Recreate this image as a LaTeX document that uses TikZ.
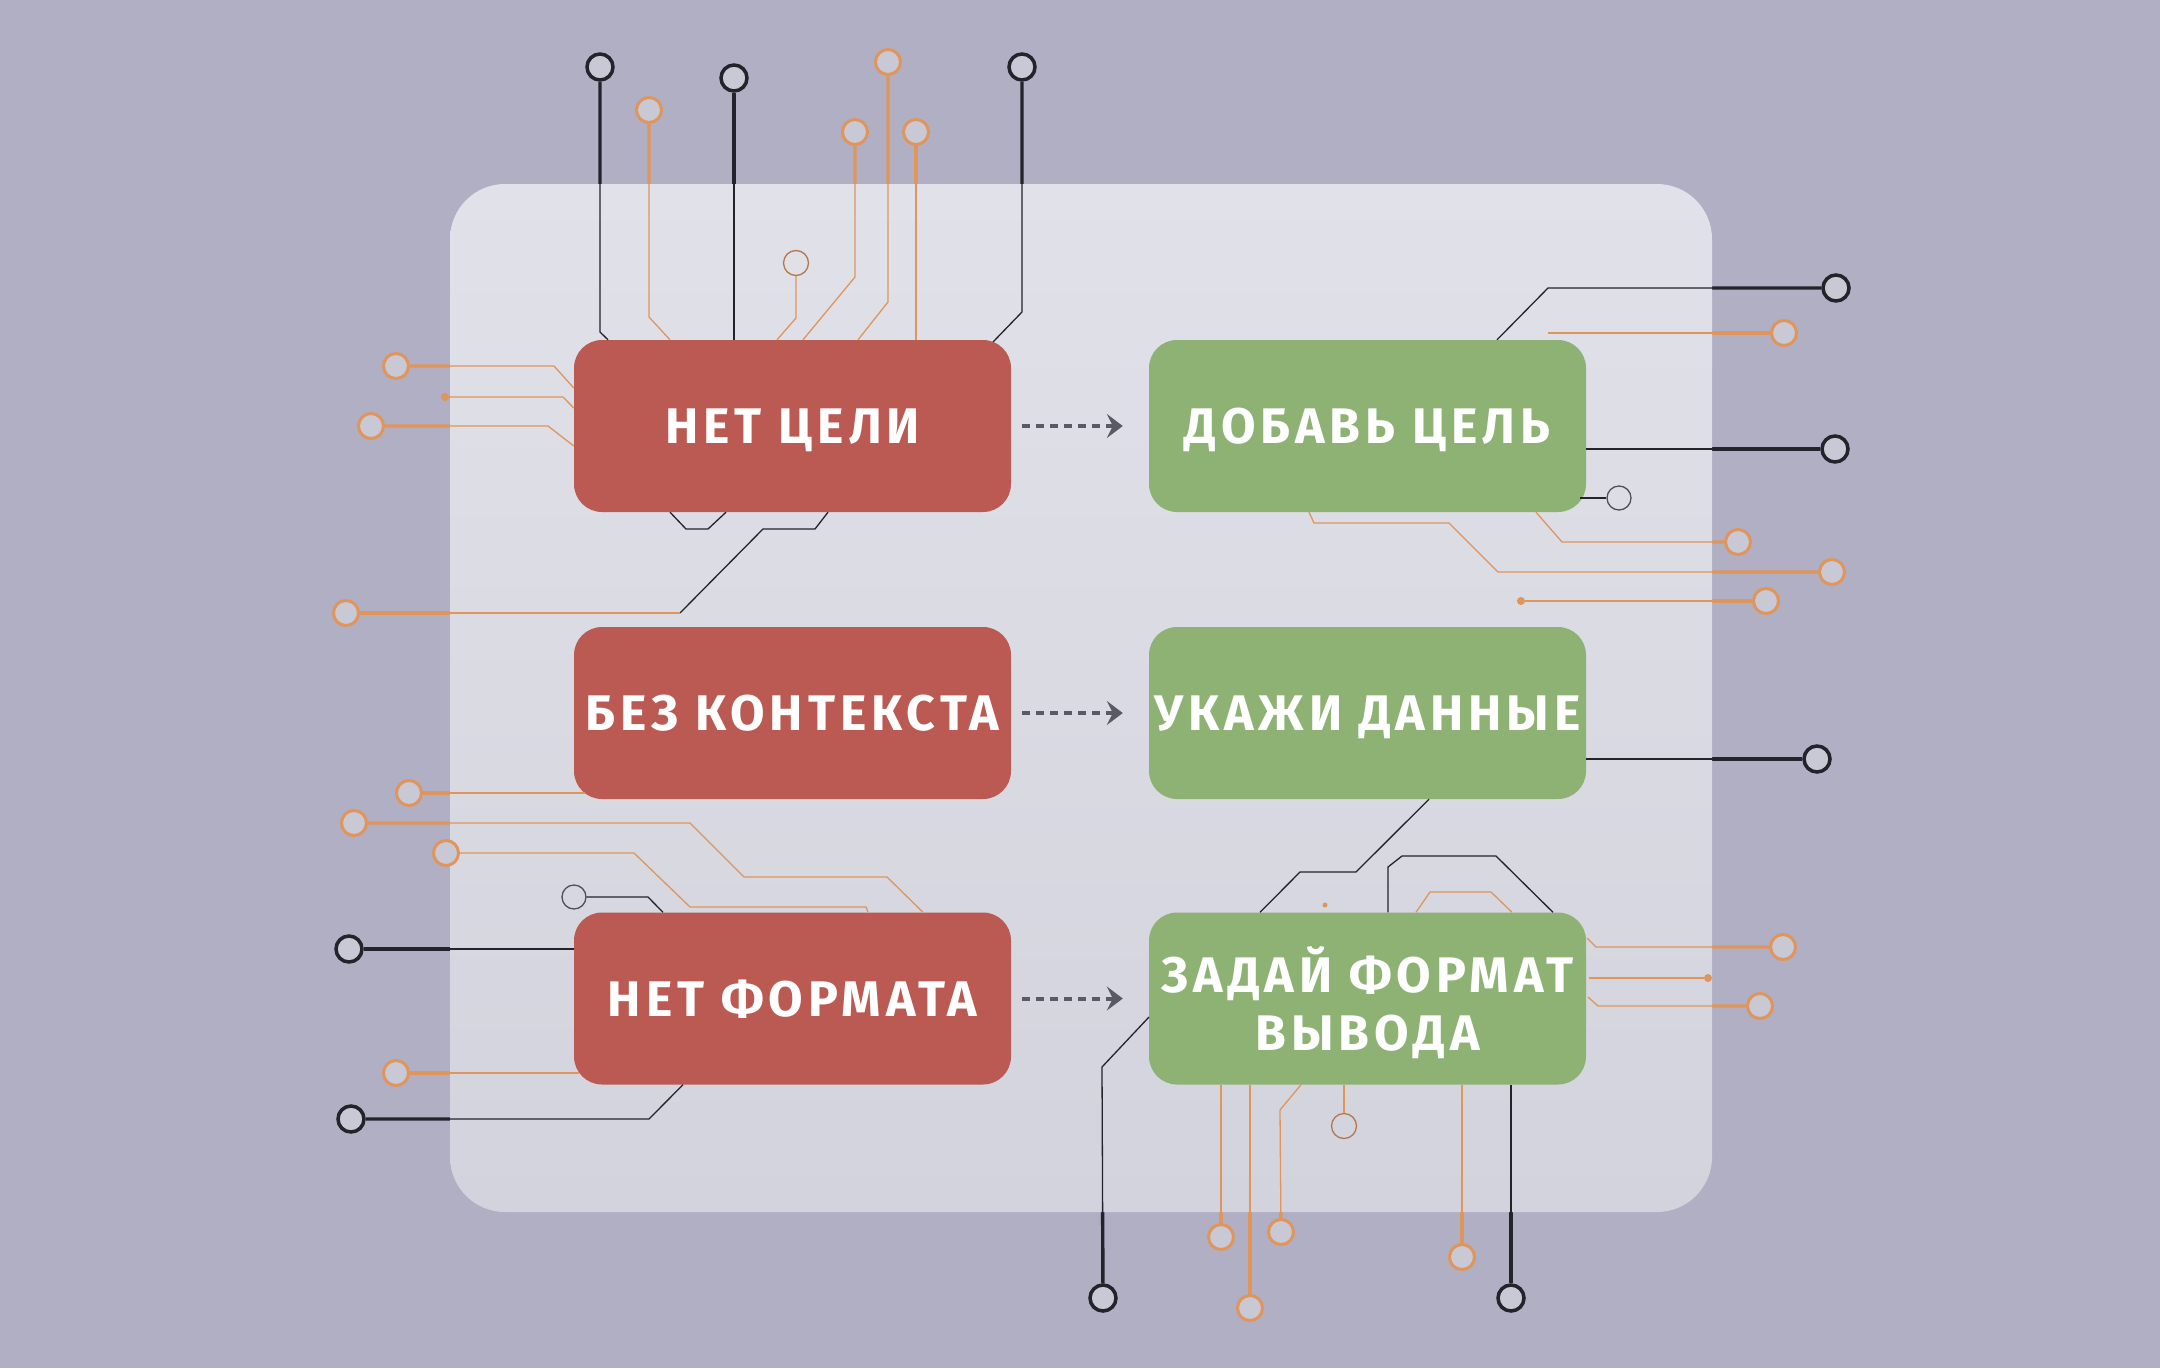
\documentclass[tikz,border=0pt]{standalone}
\usepackage{fontspec}
\newfontfamily\boxfont[LetterSpace=10]{Fira Sans}
\usetikzlibrary{arrows.meta}
\definecolor{bgcol}{HTML}{B0AFC3}
\definecolor{boardtop}{HTML}{E1E1E9}
\definecolor{boardbot}{HTML}{D3D3DD}
\definecolor{badred}{HTML}{BA5A52}
\definecolor{goodgreen}{HTML}{8DB274}
\definecolor{wireblack}{HTML}{23232B}
\definecolor{wireorange}{HTML}{E0955A}
\definecolor{padfill}{HTML}{C9C9D6}
\definecolor{arrowgray}{HTML}{5A5A64}
\pgfdeclarelayer{back}
\pgfdeclarelayer{wires}
\pgfdeclarelayer{board}
\pgfsetlayers{back,wires,board,main}

\newcommand\chiptraces{%
\draw [blk] (t1) -- (600,332) -- (608,0 |- noGoal.north);
\draw [org] (t2) -- (649,317) -- (670,0 |- noGoal.north);
\draw [blk] (t3) -- (734,0 |- noGoal.north);
\draw [org] (t4) -- (796,318) -- (777,0 |- noGoal.north);
\draw [org] (t5) -- (855,277) -- (803,0 |- noGoal.north);
\draw [org] (t6) -- (888,302) -- (858,0 |- noGoal.north);
\draw [org] (t7) -- (916,0 |- noGoal.north);
\draw [blk] (t8) -- (1022,312) -- (993,342);
\draw [org] (l1) -- (554,366) -- (0,388 -| noGoal.west);
\draw [org] (l2) -- (563,397) -- (0,408 -| noGoal.west);
\draw [org] (l3) -- (548,426) -- (0,446 -| noGoal.west);
\draw [blk] (670,0 |- noGoal.south) -- (686,529) -- (708,529) -- (726,0 |- noGoal.south);
\draw [blk] (828,0 |- noGoal.south) -- (815,529) -- (763,529) -- (680,613) coordinate (bend);
\draw [org] (l4) -- (bend);
\draw [org] (l5) -- (585,793);
\draw [org] (l6) -- (690,823) -- (744,877) -- (887,877) -- (923,0 |- noFormat.north);
\draw [org] (l7) -- (634,853) -- (690,907) -- (866,907) -- (868,0 |- noFormat.north);
\draw [blk] (l8) -- (648,897) -- (663,0 |- noFormat.north);
\draw [blk] (l9) -- (l9 -| noFormat.west);
\draw [org] (l10) -- (579,1073);
\draw [blk] (l11) -- (649,1119) -- (683,0 |- noFormat.south);
\draw [blk] (r1) -- (1548,288) -- (1497,0 |- addGoal.north);
\draw [org] (r2) -- (1548,333);
\draw [blk] (r3) -- (r3 -| addGoal.east);
\draw [blk] (r4) -- (1580,498);
\draw [org] (r5) -- (1562,542) -- (1536,0 |- addGoal.south);
\draw [org] (r6) -- (1498,572) -- (1449,523) -- (1314,523) -- (1309,0 |- addGoal.south);
\draw [org] (r7) -- (m1);
\draw [blk] (r8) -- (r8 -| giveData.east);
\draw [blk] (1429,0 |- giveData.south) -- (1356,872) -- (1300,872) -- (1260,0 |- setFormat.north);
\draw [blk] (1388,0 |- setFormat.north) -- (1388,867) -- (1402,856) -- (1496,856) -- (1553,0 |- setFormat.north);
\draw [org] (1416,0 |- setFormat.north) -- (1430,892) -- (1491,892) -- (1512,0 |- setFormat.north);
\draw [org] (r9) -- (1596,947) -- (1587,938);
\draw [org] (m2) -- (1589,978);
\draw [org] (r11) -- (1598,1006) -- (1588,997);
\draw [blk] (b1) -- (1102,1067) -- (1149,1017);
\draw [org] (b2) -- (b2 |- setFormat.south);
\draw [org] (b3) -- (b3 |- setFormat.south);
\draw [org] (b4) -- (1280,1110) -- (1301,0 |- setFormat.south);
\draw [org] (b5) -- (b5 |- setFormat.south);
\draw [org] (b6) -- (b6 |- setFormat.south);
\draw [blk] (b7) -- (b7 |- setFormat.south);
}

\begin{document}
\begin{tikzpicture}
[x=1pt, y=-1pt,
 every node/.style={inner sep=0pt},
 badbox/.style={rounded corners=28pt, minimum width=437pt, minimum height=172pt, fill=badred, text=white, text depth=0pt, align=center, font=\boxfont\bfseries\fontsize{50pt}{58pt}\selectfont},
 goodbox/.style={badbox, fill=goodgreen},
 blkpad/.style={circle, minimum size=26pt, draw=wireblack, line width=3.5pt, fill=padfill},
 orgpad/.style={circle, minimum size=25pt, draw=wireorange, line width=3pt, fill=padfill},
 blkring/.style={circle, minimum size=24pt, draw=wireblack!80, line width=1.3pt},
 orgring/.style={circle, minimum size=25pt, draw=wireorange!80!black, line width=1.3pt},
 dot/.style={circle, minimum size=8pt, fill=wireorange},
 blk/.style={draw=wireblack},
 org/.style={draw=wireorange},
 flow/.style={draw=arrowgray, line width=4pt, dash pattern=on 8pt off 6pt, shorten <=11pt, shorten >=26pt, -{Stealth[length=16pt, width=24pt, inset=6pt]}}]
\useasboundingbox (0,0) rectangle (2160,1368);
\begin{pgfonlayer}{back}
\fill [bgcol] (0,0) rectangle (2160,1368);
\end{pgfonlayer}
\begin{pgfonlayer}{board}
\shade [top color=boardtop, bottom color=boardbot, rounded corners=55pt] (450,184) rectangle (1712,1212);
\end{pgfonlayer}
\node (noGoal) [badbox] at (792.5,426) {НЕТ ЦЕЛИ};
\node (noContext) [badbox] at (792.5,713) {БЕЗ КОНТЕКСТА};
\node (noFormat) [badbox] at (792.5,998.5) {НЕТ ФОРМАТА};
\node (addGoal) [goodbox] at (1367.5,426) {ДОБАВЬ ЦЕЛЬ};
\node (giveData) [goodbox] at (1367.5,713) {УКАЖИ ДАННЫЕ};
\node (setFormat) [goodbox] at (1367.5,998.5) {ЗАДАЙ ФОРМАТ\\ВЫВОДА};
\node (t1) [blkpad] at (600,67) {};
\node (t2) [orgpad] at (649,110) {};
\node (t3) [blkpad] at (734,78) {};
\node (t4) [orgring] at (796,263) {};
\node (t5) [orgpad] at (855,132) {};
\node (t6) [orgpad] at (888,62) {};
\node (t7) [orgpad] at (916,132) {};
\node (t8) [blkpad] at (1022,67) {};
\node (l1) [orgpad] at (396,366) {};
\node (l2) [dot] at (445,397) {};
\node (l3) [orgpad] at (371,426) {};
\node (l4) [orgpad] at (346,613) {};
\node (l5) [orgpad] at (409,793) {};
\node (l6) [orgpad] at (354,823) {};
\node (l7) [orgpad] at (446,853) {};
\node (l8) [blkring] at (574,897) {};
\node (l9) [blkpad] at (349,949) {};
\node (l10) [orgpad] at (396,1073) {};
\node (l11) [blkpad] at (351,1119) {};
\node (r1) [blkpad] at (1836,288) {};
\node (r2) [orgpad] at (1784,333) {};
\node (r3) [blkpad] at (1835,449) {};
\node (r4) [blkring] at (1619,498) {};
\node (r5) [orgpad] at (1738,542) {};
\node (r6) [orgpad] at (1832,572) {};
\node (r7) [orgpad] at (1766,601) {};
\node (m1) [dot] at (1521,601) {};
\node (r8) [blkpad] at (1817,759) {};
\node (m3) [dot, minimum size=5pt] at (1325,905) {};
\node (r9) [orgpad] at (1783,947) {};
\node (m2) [dot] at (1708,978) {};
\node (r11) [orgpad] at (1760,1006) {};
\node (b1) [blkpad] at (1103,1298) {};
\node (b2) [orgpad] at (1221,1237) {};
\node (b3) [orgpad] at (1250,1308) {};
\node (b4) [orgpad] at (1281,1232) {};
\node (b5) [orgring] at (1344,1126) {};
\node (b6) [orgpad] at (1462,1257) {};
\node (b7) [blkpad] at (1511,1298) {};
\begin{pgfonlayer}{wires}
\begin{scope}[line width=3.4pt]
\chiptraces
\end{scope}
\end{pgfonlayer}
\begin{scope}[line width=1.3pt]
\chiptraces
\end{scope}
\draw [flow] (noGoal) -- (addGoal);
\draw [flow] (noContext) -- (giveData);
\draw [flow] (noFormat) -- (setFormat);
\end{tikzpicture}
\end{document}
